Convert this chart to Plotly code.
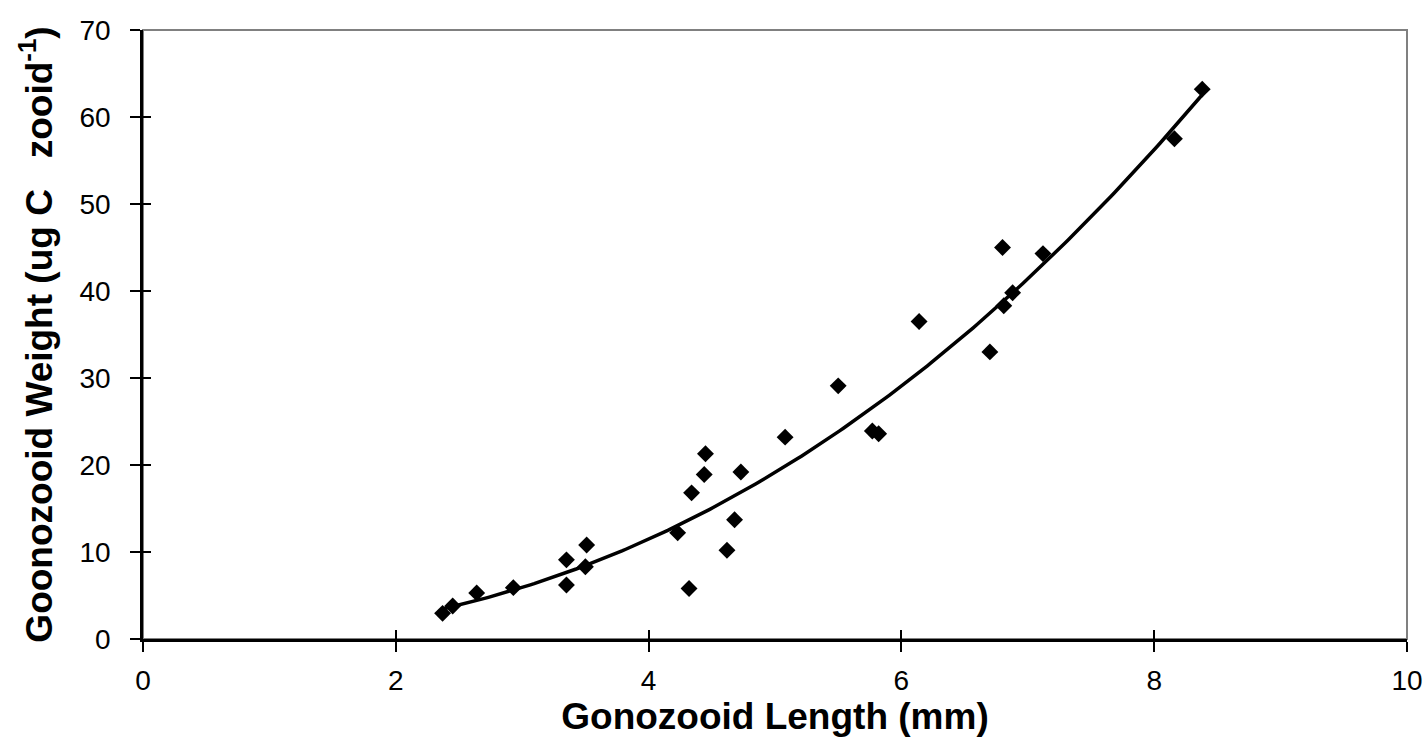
import numpy as np
import plotly.graph_objects as go

# Gonozooid length (mm) and carbon weight (ug C per zooid)
length_mm = [2.37, 2.45, 2.64, 2.93, 3.35, 3.35, 3.50, 3.51, 4.23, 4.32,
             4.34, 4.44, 4.45, 4.62, 4.68, 4.73, 5.08, 5.50, 5.77, 5.82,
             6.14, 6.70, 6.80, 6.81, 6.88, 7.12, 8.16, 8.38]
weight_ugC = [2.95, 3.8, 5.3, 5.9, 9.1, 6.2, 8.3, 10.8, 12.2, 5.8,
              16.8, 18.9, 21.3, 10.2, 13.7, 19.2, 23.2, 29.1, 23.9, 23.6,
              36.5, 33.0, 45.0, 38.3, 39.8, 44.3, 57.5, 63.2]

x_ticks = [0, 2, 4, 6, 8, 10]
y_ticks = [0, 10, 20, 30, 40, 50, 60, 70]

# Power-law trend line fitted in log-log space
xa = np.array(length_mm)
ya = np.array(weight_ugC)
b, ln_a = np.polyfit(np.log(xa), np.log(ya), 1)
x_fit = np.linspace(xa.min(), xa.max(), 200)
y_fit = np.exp(ln_a) * x_fit ** b

FONT = "Liberation Sans, Arial, sans-serif"

fig = go.Figure()
fig.add_trace(go.Scatter(x=x_fit, y=y_fit, mode="lines",
                         line=dict(color="black", width=3.5),
                         hoverinfo="skip", showlegend=False))
fig.add_trace(go.Scatter(x=length_mm, y=weight_ugC, mode="markers",
                         marker=dict(symbol="diamond", size=13, color="black",
                                     line=dict(width=0)),
                         showlegend=False))

# grey frame on top and right of the plotting area
fig.add_shape(type="rect", xref="paper", yref="paper", x0=0, y0=0, x1=1, y1=1,
              line=dict(color="#808080", width=2), layer="below")

axis_common = dict(showgrid=False, zeroline=False, showline=True,
                   linecolor="black", linewidth=2.5, ticks="outside",
                   ticklen=10, tickwidth=2, tickcolor="black", automargin=False,
                   tickfont=dict(family=FONT, size=28, color="black"))

fig.update_layout(
    width=1425, height=749,
    margin=dict(l=143, r=18, t=30, b=110),
    paper_bgcolor="white", plot_bgcolor="white",
    xaxis=dict(range=[0, 10], tickvals=x_ticks, ticklabelstandoff=5,
               title=dict(text="<b>Gonozooid Length (mm)</b>",
                          font=dict(family=FONT, size=37, color="black"),
                          standoff=0),
               **axis_common),
    yaxis=dict(range=[0, 70], tickvals=y_ticks, ticklabelstandoff=14,
               title=dict(text="<b>Goonozooid Weight (ug C\u00a0\u00a0 zooid<sup>-1</sup>)</b>",
                          font=dict(family=FONT, size=37, color="black"),
                          standoff=16),
               **axis_common),
    # companion axes giving the inward half of each tick mark
    xaxis2=dict(range=[0, 10], tickvals=x_ticks, overlaying="x", side="bottom",
                anchor="y", showticklabels=False, showgrid=False,
                zeroline=False, showline=False, ticks="inside", ticklen=9,
                tickwidth=2, tickcolor="black", automargin=False),
    yaxis2=dict(range=[0, 70], tickvals=y_ticks, overlaying="y", side="left",
                anchor="x", showticklabels=False, showgrid=False,
                zeroline=False, showline=False, ticks="inside", ticklen=8,
                tickwidth=2, tickcolor="black", automargin=False),
)
# invisible trace so the companion axes are drawn
fig.add_trace(go.Scatter(x=[None], y=[None], xaxis="x2", yaxis="y2",
                         showlegend=False, hoverinfo="skip"))

fig.write_html("out.html")
